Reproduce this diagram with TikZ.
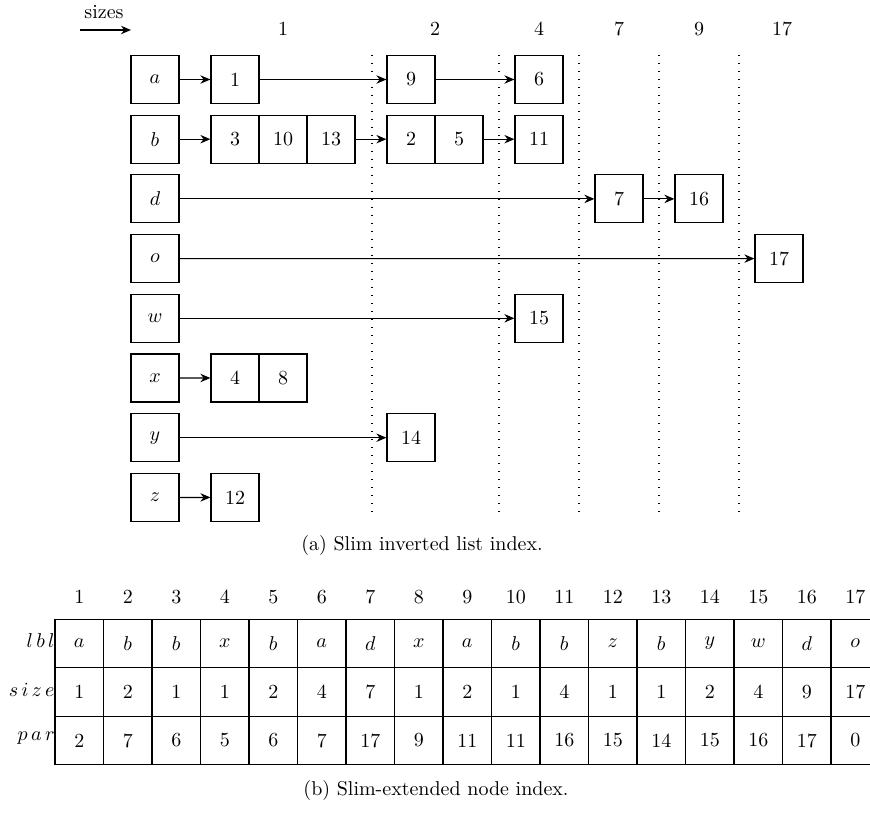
\documentclass[tikz,border=0pt]{standalone}
\usetikzlibrary{arrows.meta}
\begin{document}
\begin{tikzpicture}[x=0.5pt,y=-0.5pt,
  box/.style={draw, line width=0.6pt, minimum width=24pt, minimum height=24pt, inner sep=0pt},
  cell/.style={draw, line width=0.6pt, minimum width=24.25pt, minimum height=24.25pt, inner sep=0pt},
  arr/.style={-{Stealth[length=5pt,width=4.2pt,inset=1.6pt]}, line width=0.6pt},
  vdots/.style={line width=0.7pt, dash pattern=on 0.6pt off 3.4pt},
  lab/.style={inner sep=0pt}]
\useasboundingbox (0,0) rectangle (870,812);

% sizes header
\node[lab] (sizes) at (104,12) {sizes};
\coordinate (sA) at (80,30);
\coordinate (sB) at (131,30);
\draw[arr] (sA) -- (sB);
\foreach \x/\t/\nm in {283/1/s1, 435/2/s2, 539/4/s4, 619/7/s7, 699/9/s9, 782/17/s17}
  \node[lab] (\nm) at (\x,29) {\t};

% dotted separators
\foreach \x [count=\k] in {372,499,579,659,739} {
  \coordinate (dt\k) at (\x,55);
  \coordinate (db\k) at (\x,516);
  \draw[vdots] (dt\k) -- (db\k);
}

% key boxes
\foreach \n [count=\i from 0] in {a,b,d,o,w,x,y,z}
  \node[box] (k\n) at (155,{79.5+59.7*\i}) {$\n$};

% element boxes
\def\ya{79.5}
\node[box] (a1) at (235,79.5) {1};
\node[box] (a9) at (411,79.5) {9};
\node[box] (a6) at (539,79.5) {6};

\node[box] (b3) at (235,139.2) {3};
\node[box] (b10) at (283,139.2) {10};
\node[box] (b13) at (331,139.2) {13};
\node[box] (b2) at (411,139.2) {2};
\node[box] (b5) at (459,139.2) {5};
\node[box] (b11) at (539,139.2) {11};

\node[box] (d7) at (619,198.9) {7};
\node[box] (d16) at (699,198.9) {16};

\node[box] (o17) at (779,258.6) {17};

\node[box] (w15) at (539,318.3) {15};

\node[box] (x4) at (235,378) {4};
\node[box] (x8) at (283,378) {8};

\node[box] (y14) at (411,437.7) {14};

\node[box] (z12) at (235,497.4) {12};

% connectors
\draw[arr] (ka) -- (a1);
\draw[arr] (a1) -- (a9);
\draw[arr] (a9) -- (a6);
\draw[arr] (kb) -- (b3);
\draw[arr] (b13) -- (b2);
\draw[arr] (b5) -- (b11);
\draw[arr] (kd) -- (d7);
\draw[arr] (d7) -- (d16);
\draw[arr] (ko) -- (o17);
\draw[arr] (kw) -- (w15);
\draw[arr] (kx) -- (x4);
\draw[arr] (ky) -- (y14);
\draw[arr] (kz) -- (z12);

\node[lab] (capa) at (422,545) {(a) Slim inverted list index.};

% table
\foreach \l/\s/\p [count=\i] in {a/1/2, b/2/7, b/1/6, x/1/5, b/2/6, a/4/7, d/7/17, x/1/9, a/2/11, b/1/11, b/4/16, z/1/15, b/1/14, y/2/15, w/4/16, d/9/17, o/17/0} {
  \node[lab] (h\i) at ({30.75+48.5*\i},597) {\i};
  \node[cell] (l\i) at ({30.75+48.5*\i},643.5) {$\l$};
  \node[cell] (z\i) at ({30.75+48.5*\i},692) {\s};
  \node[cell] (p\i) at ({30.75+48.5*\i},740.5) {\p};
}
\node[lab, anchor=east] (rl) at (55,641) {$l\,b\,l$};
\node[lab, anchor=east] (rs) at (55,690) {$s\,i\,z\,e$};
\node[lab, anchor=east] (rp) at (55,738) {$p\,a\,r$};

\node[lab] (capb) at (436,790) {(b) Slim-extended node index.};
\end{tikzpicture}
\end{document}
